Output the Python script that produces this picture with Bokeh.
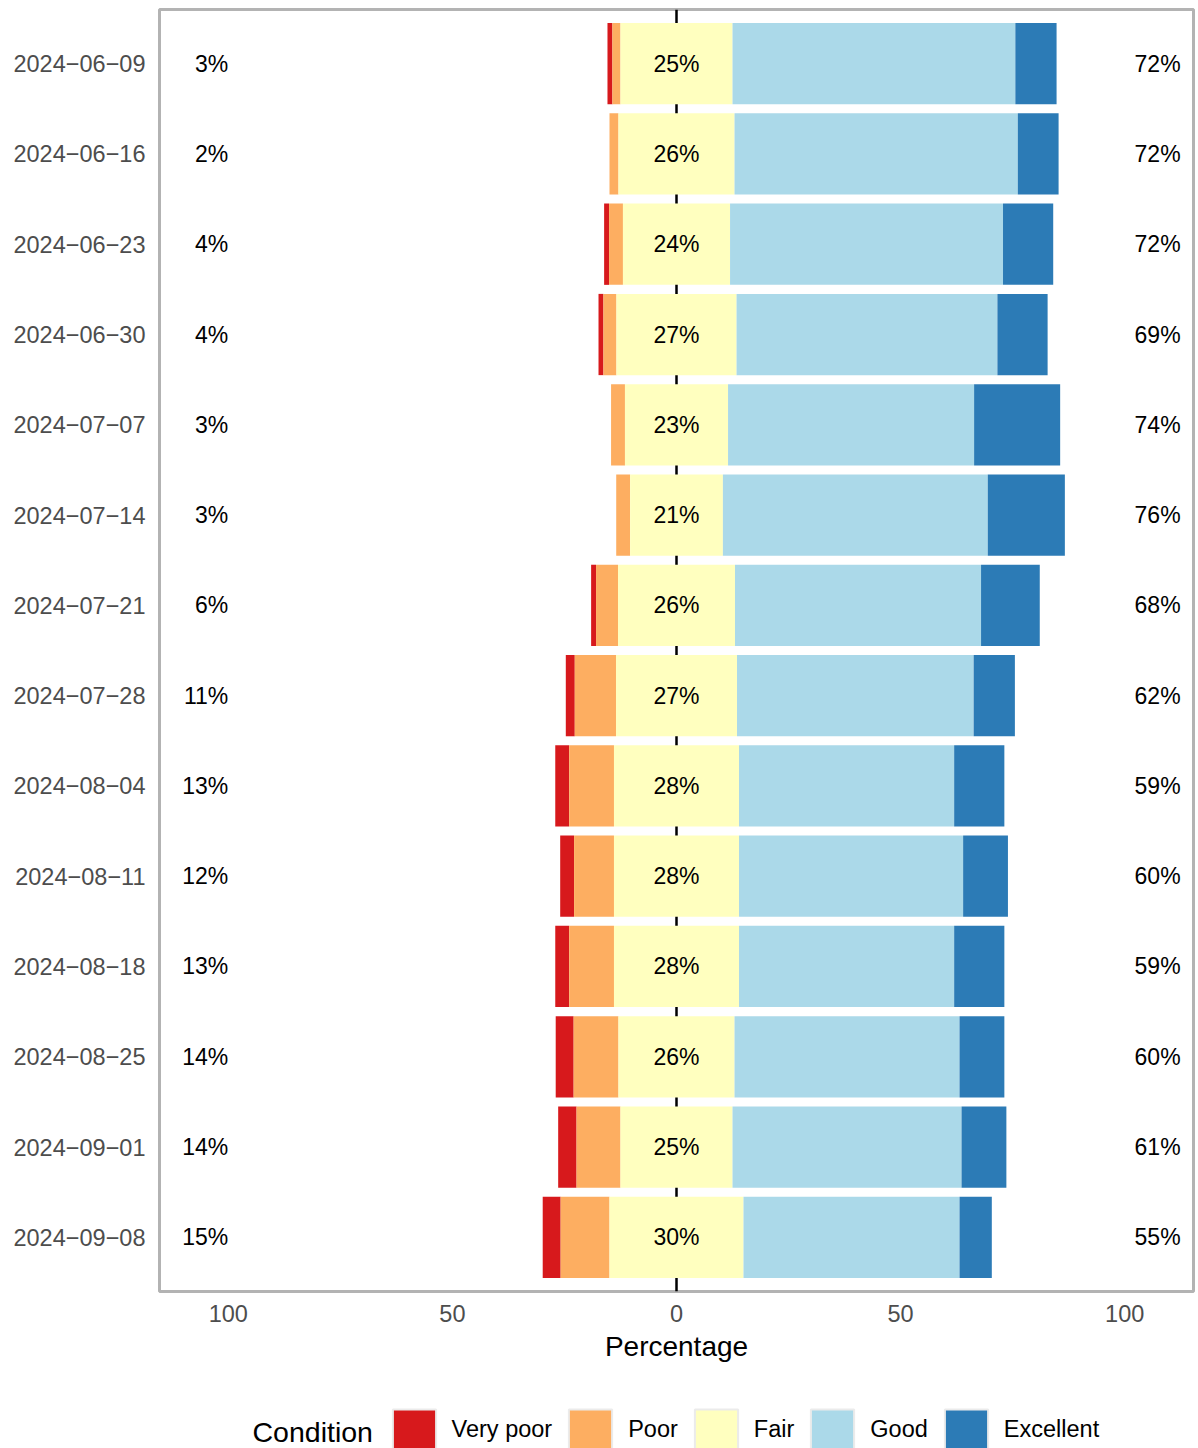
from bokeh.plotting import figure
from bokeh.layouts import column
from bokeh.models import (FactorRange, Range1d, FixedTicker, Span, Legend,
                          LegendItem, Label, ColumnDataSource)
from bokeh.core.properties import value
from bokeh.embed import file_html
from bokeh.resources import INLINE

# ---------------- data ----------------
dates = ["2024\u221206\u221209", "2024\u221206\u221216", "2024\u221206\u221223", "2024\u221206\u221230",
         "2024\u221207\u221207", "2024\u221207\u221214", "2024\u221207\u221221", "2024\u221207\u221228",
         "2024\u221208\u221204", "2024\u221208\u221211", "2024\u221208\u221218", "2024\u221208\u221225",
         "2024\u221209\u221201", "2024\u221209\u221208"]
very_poor = [1.1, 0.0, 1.1, 1.1, 0.0, 0.0, 1.1, 2.0, 3.1, 3.1, 3.1, 4.0, 4.1, 4.0]
poor      = [1.8, 2.0, 3.1, 2.9, 3.1, 3.1, 4.9, 9.2, 10.0, 8.9, 10.0, 10.0, 9.8, 10.9]
fair      = [25.0, 25.9, 23.9, 26.8, 23.0, 20.7, 26.1, 27.0, 27.9, 27.9, 27.9, 25.9, 25.0, 29.9]
good      = [63.1, 63.2, 60.9, 58.2, 54.9, 59.1, 54.9, 52.8, 48.0, 50.0, 48.0, 50.2, 51.1, 48.2]
excellent = [9.2, 9.1, 11.2, 11.2, 19.2, 17.2, 13.1, 9.2, 11.2, 10.0, 11.2, 10.0, 10.0, 7.2]

conditions = ["Very poor", "Poor", "Fair", "Good", "Excellent"]
colors = ["#D7191C", "#FDAE61", "#FFFFBF", "#ABD9E9", "#2C7BB6"]
x_ticks = [-100, -50, 0, 50, 100]
x_tick_labels = ["100", "50", "0", "50", "100"]
x_title = "Percentage"
legend_title = "Condition"

FONT = "Liberation Sans"

# ---------------- derived stacks ----------------
n = len(dates)
vp_r = [-f / 2 - p for f, p in zip(fair, poor)]
vp_l = [r - v for r, v in zip(vp_r, very_poor)]
po_r = [-f / 2 for f in fair]
po_l = [r - p for r, p in zip(po_r, poor)]
fa_l = [-f / 2 for f in fair]
fa_r = [f / 2 for f in fair]
go_l = [f / 2 for f in fair]
go_r = [l + g for l, g in zip(go_l, good)]
ex_l = go_r
ex_r = [l + e for l, e in zip(ex_l, excellent)]
stacks = [(vp_l, vp_r), (po_l, po_r), (fa_l, fa_r), (go_l, go_r), (ex_l, ex_r)]

low_lab = [f"{round(v + p)}%" for v, p in zip(very_poor, poor)]
mid_lab = [f"{round(f)}%" for f in fair]
high_lab = [f"{round(g + e)}%" for g, e in zip(good, excellent)]

# ---------------- main figure ----------------
y_range = FactorRange(factors=list(reversed(dates)), range_padding=0.1,
                      range_padding_units="absolute")
p = figure(width=1198, height=1380, y_range=y_range,
           x_range=Range1d(-115.35, 115.35),
           output_backend="svg", toolbar_location=None,
           min_border_left=159, min_border_right=5,
           min_border_top=9, min_border_bottom=89)

p.background_fill_color = "white"
p.border_fill_color = "white"
p.outline_line_color = "#B3B3B3"
p.outline_line_width = 3
p.xgrid.grid_line_color = None
p.ygrid.grid_line_color = None

p.add_layout(Span(location=0, dimension="height", line_color="black",
                  line_width=2.5, level="underlay"))

sources = []
for (l, r), c in zip(stacks, colors):
    src = ColumnDataSource(dict(y=dates, left=l, right=r))
    sources.append(src)
    p.hbar(y="y", left="left", right="right", height=0.9, source=src,
           fill_color=c, line_color=None)

# labels
lab_src = ColumnDataSource(dict(y=dates, low=low_lab, mid=mid_lab, high=high_lab,
                                xl=[-100] * n, xm=[0] * n, xh=[102.2] * n))
common = dict(text_font=value(FONT), text_font_size=value("23px"),
              text_color="black", text_baseline="middle", source=lab_src)
p.text(x="xl", y="y", text="low", text_align="right", **common)
p.text(x="xm", y="y", text="mid", text_align="center", **common)
p.text(x="xh", y="y", text="high", text_align="left", **common)

# axes
p.xaxis.ticker = FixedTicker(ticks=x_ticks)
p.xaxis.major_label_overrides = {t: s for t, s in zip(x_ticks, x_tick_labels)}
p.xaxis.axis_label = x_title
for ax in (p.xaxis, p.yaxis):
    ax.axis_line_color = None
    ax.major_tick_line_color = None
    ax.minor_tick_line_color = None
    ax.major_tick_out = 0
    ax.major_tick_in = 0
    ax.major_label_text_font = FONT
    ax.major_label_text_font_size = "23.5px"
    ax.major_label_text_color = "#4D4D4D"
p.xaxis.major_label_standoff = 13
p.yaxis.major_label_standoff = 14
p.xaxis.axis_label_text_font = FONT
p.xaxis.axis_label_text_font_size = "28px"
p.xaxis.axis_label_text_font_style = "normal"
p.xaxis.axis_label_text_color = "black"
p.xaxis.axis_label_standoff = 6

# ---------------- legend strip ----------------
pl = figure(width=1198, height=68, x_range=Range1d(-115.35, 115.35),
            y_range=FactorRange(factors=list(reversed(dates))),
            output_backend="svg", toolbar_location=None,
            x_axis_location=None, y_axis_location=None, min_border=0)
pl.outline_line_color = None
pl.xgrid.grid_line_color = None
pl.ygrid.grid_line_color = None
pl.background_fill_color = "white"
pl.border_fill_color = "white"

items = []
for name, c, src in zip(conditions, colors, sources):
    r = pl.hbar(y="y", left="left", right="right", height=0.9, source=src,
                fill_color=c, line_color="#EBEBEB", line_width=2, visible=False)
    items.append(LegendItem(label=name, renderers=[r]))
legend = Legend(items=items, orientation="horizontal", location=(227.6, -7),
                glyph_width=54, glyph_height=51, label_height=51,
                label_standoff=11, spacing=11, padding=0, margin=0,
                label_text_font=FONT, label_text_font_size="23.5px",
                label_text_color="black",
                inactive_fill_alpha=0,
                background_fill_alpha=0, border_line_alpha=0)
pl.add_layout(legend, "center")
pl.add_layout(Label(x=93, y=17, x_units="screen", y_units="screen",
                    text=legend_title, text_font=FONT, text_font_size="28.5px",
                    text_color="black", text_baseline="middle", text_align="left"))

layout = column(p, pl, spacing=0)
open("out.html", "w").write(file_html(layout, INLINE))
